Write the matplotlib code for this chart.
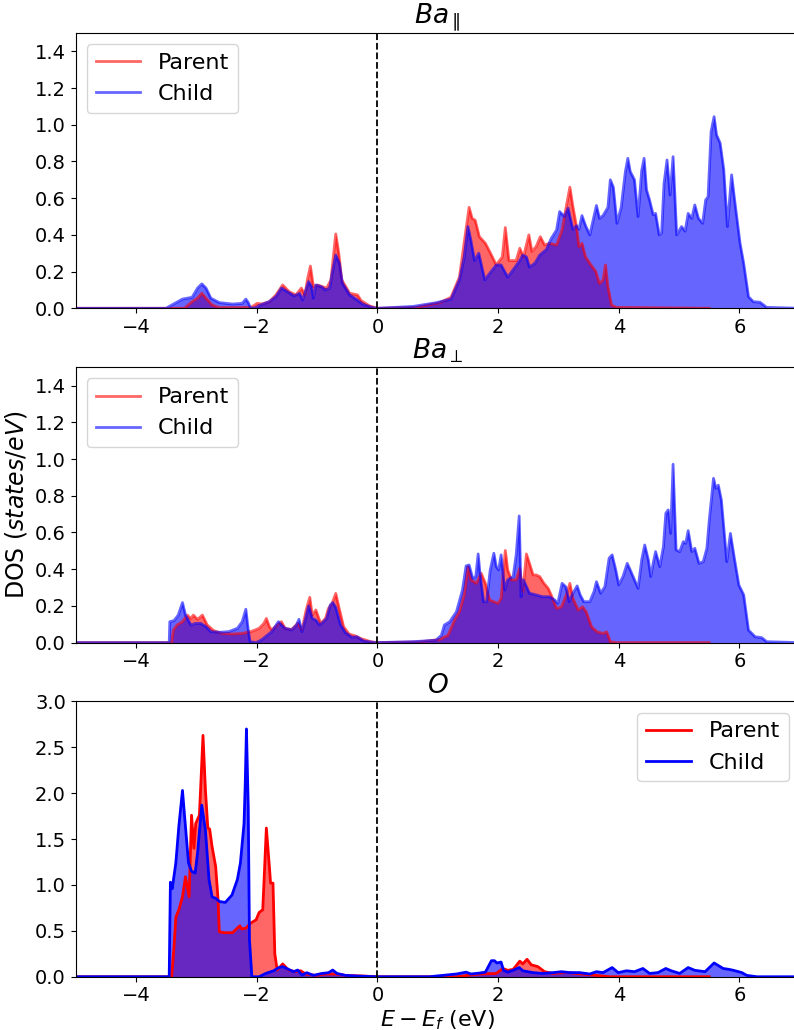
import matplotlib
matplotlib.use('Agg')
import matplotlib.pyplot as plt
import numpy as np

# projected DOS, columns: energy E - E_f (eV), DOS (states/eV)
ba_par_parent = np.array([
    (-5.0, 0), (-3.2, 0), (-3.07, 0.036), (-2.98, 0.055), (-2.91, 0.082), (-2.84, 0.055),
    (-2.74, 0.018), (-2.62, 0.004), (-2.10, 0.004), (-1.99, 0.027), (-1.92, 0.023),
    (-1.79, 0.036), (-1.68, 0.073), (-1.57, 0.127), (-1.46, 0.09), (-1.35, 0.073),
    (-1.26, 0.11), (-1.20, 0.073), (-1.16, 0.155), (-1.11, 0.23), (-1.06, 0.118),
    (-0.99, 0.127), (-0.91, 0.118), (-0.84, 0.11), (-0.77, 0.155), (-0.73, 0.28),
    (-0.69, 0.405), (-0.64, 0.30), (-0.59, 0.155), (-0.46, 0.082), (-0.33, 0.073),
    (-0.27, 0.042), (-0.13, 0.013), (0.0, 0), (0.64, 0.005), (1.03, 0.03), (1.22, 0.06),
    (1.36, 0.17), (1.46, 0.41), (1.52, 0.55), (1.57, 0.49), (1.62, 0.48), (1.69, 0.39),
    (1.79, 0.354), (1.89, 0.29), (1.97, 0.236), (2.07, 0.28), (2.12, 0.44), (2.18, 0.26),
    (2.30, 0.26), (2.36, 0.327), (2.42, 0.28), (2.51, 0.40), (2.56, 0.31), (2.63, 0.336),
    (2.70, 0.39), (2.77, 0.345), (2.85, 0.354), (2.97, 0.345), (3.06, 0.427), (3.13, 0.554),
    (3.19, 0.66), (3.24, 0.554), (3.30, 0.445), (3.34, 0.336), (3.39, 0.354), (3.45, 0.28),
    (3.52, 0.245), (3.62, 0.20), (3.68, 0.135), (3.74, 0.155), (3.78, 0.236), (3.82, 0.118),
    (3.88, 0.017), (3.96, 0.005), (5.5, 0),
])
ba_par_child = np.array([
    (-5.0, 0), (-3.5, 0), (-3.45, 0.01), (-3.23, 0.05), (-3.07, 0.06), (-2.98, 0.11),
    (-2.91, 0.133), (-2.84, 0.11), (-2.76, 0.055), (-2.62, 0.031), (-2.40, 0.023),
    (-2.24, 0.027), (-2.18, 0.05), (-2.14, 0.031), (-2.10, 0), (-2.01, 0.004),
    (-1.94, 0.018), (-1.79, 0.036), (-1.68, 0.064), (-1.59, 0.11), (-1.49, 0.09),
    (-1.38, 0.067), (-1.29, 0.081), (-1.24, 0.045), (-1.14, 0.145), (-1.09, 0.118),
    (-1.06, 0.055), (-1.02, 0.127), (-0.93, 0.118), (-0.86, 0.10), (-0.79, 0.11),
    (-0.75, 0.19), (-0.69, 0.29), (-0.63, 0.245), (-0.58, 0.136), (-0.46, 0.073),
    (-0.35, 0.049), (-0.24, 0.022), (-0.08, 0.004), (0.0, 0), (0.59, 0.01), (0.97, 0.03),
    (1.22, 0.05), (1.36, 0.155), (1.44, 0.28), (1.50, 0.445), (1.55, 0.37), (1.61, 0.26),
    (1.68, 0.30), (1.78, 0.155), (1.86, 0.19), (1.97, 0.236), (2.05, 0.236), (2.11, 0.20),
    (2.16, 0.17), (2.25, 0.21), (2.36, 0.26), (2.41, 0.29), (2.47, 0.28), (2.52, 0.225),
    (2.61, 0.245), (2.69, 0.29), (2.80, 0.32), (2.88, 0.38), (2.97, 0.427), (3.02, 0.527),
    (3.10, 0.50), (3.16, 0.545), (3.24, 0.43), (3.30, 0.45), (3.34, 0.43), (3.39, 0.505),
    (3.45, 0.45), (3.52, 0.40), (3.63, 0.56), (3.68, 0.49), (3.74, 0.505), (3.82, 0.55),
    (3.86, 0.70), (3.91, 0.66), (3.97, 0.463), (4.04, 0.55), (4.11, 0.745), (4.15, 0.817),
    (4.19, 0.745), (4.26, 0.70), (4.32, 0.50), (4.38, 0.75), (4.42, 0.817), (4.46, 0.645),
    (4.51, 0.59), (4.57, 0.51), (4.61, 0.517), (4.67, 0.40), (4.71, 0.41), (4.75, 0.68),
    (4.80, 0.808), (4.85, 0.617), (4.90, 0.826), (4.96, 0.40), (5.04, 0.445), (5.10, 0.42),
    (5.15, 0.517), (5.21, 0.49), (5.26, 0.563), (5.32, 0.49), (5.39, 0.463), (5.44, 0.59),
    (5.48, 0.608), (5.53, 0.963), (5.58, 1.044), (5.62, 0.945), (5.68, 0.90), (5.74, 0.755),
    (5.80, 0.445), (5.87, 0.727), (5.92, 0.59), (6.01, 0.354), (6.07, 0.245), (6.15, 0.063),
    (6.23, 0.036), (6.34, 0.033), (6.45, 0.005), (7.0, 0),
])

ba_perp_parent = np.array([
    (-5.0, 0), (-3.41, 0), (-3.38, 0.069), (-3.32, 0.096), (-3.23, 0.114), (-3.15, 0.15),
    (-3.09, 0.132), (-3.05, 0.15), (-2.98, 0.127), (-2.90, 0.15), (-2.82, 0.096),
    (-2.71, 0.065), (-2.57, 0.05), (-2.40, 0.047), (-2.24, 0.05), (-2.07, 0.063),
    (-1.96, 0.078), (-1.88, 0.105), (-1.84, 0.132), (-1.79, 0.087), (-1.75, 0.069),
    (-1.66, 0.096), (-1.59, 0.114), (-1.53, 0.078), (-1.42, 0.072), (-1.32, 0.105),
    (-1.25, 0.069), (-1.18, 0.178), (-1.12, 0.247), (-1.08, 0.15), (-1.02, 0.178),
    (-0.94, 0.105), (-0.86, 0.132), (-0.81, 0.187), (-0.75, 0.214), (-0.69, 0.268),
    (-0.64, 0.196), (-0.56, 0.087), (-0.47, 0.047), (-0.36, 0.036), (-0.28, 0.023),
    (-0.11, 0.005), (0.0, 0), (0.70, 0.004), (1.03, 0.017), (1.17, 0.04), (1.28, 0.123),
    (1.36, 0.168), (1.44, 0.26), (1.50, 0.414), (1.55, 0.342), (1.64, 0.323), (1.72, 0.378),
    (1.79, 0.323), (1.86, 0.232), (2.00, 0.214), (2.05, 0.241), (2.09, 0.396), (2.12, 0.502),
    (2.16, 0.396), (2.22, 0.342), (2.30, 0.342), (2.36, 0.405), (2.41, 0.278), (2.47, 0.483),
    (2.52, 0.432), (2.58, 0.369), (2.63, 0.369), (2.69, 0.36), (2.76, 0.323), (2.83, 0.296),
    (2.88, 0.26), (2.97, 0.186), (3.05, 0.195), (3.13, 0.26), (3.19, 0.323), (3.24, 0.241),
    (3.33, 0.177), (3.40, 0.195), (3.46, 0.168), (3.55, 0.086), (3.64, 0.059), (3.74, 0.05),
    (3.80, 0.059), (3.86, 0.005), (3.96, 0), (5.5, 0),
])
ba_perp_child = np.array([
    (-5.0, 0), (-3.45, 0), (-3.44, 0.114), (-3.37, 0.12), (-3.30, 0.15), (-3.23, 0.218),
    (-3.18, 0.15), (-3.09, 0.096), (-3.01, 0.105), (-2.93, 0.105), (-2.84, 0.087),
    (-2.76, 0.06), (-2.62, 0.056), (-2.46, 0.06), (-2.32, 0.078), (-2.24, 0.114),
    (-2.18, 0.182), (-2.14, 0.069), (-2.11, 0.005), (-2.01, 0), (-1.92, 0.015),
    (-1.75, 0.06), (-1.64, 0.114), (-1.59, 0.096), (-1.53, 0.078), (-1.42, 0.069),
    (-1.34, 0.096), (-1.30, 0.127), (-1.25, 0.06), (-1.19, 0.132), (-1.14, 0.2),
    (-1.08, 0.132), (-1.02, 0.123), (-0.96, 0.096), (-0.89, 0.114), (-0.84, 0.132),
    (-0.78, 0.205), (-0.74, 0.218), (-0.69, 0.192), (-0.61, 0.096), (-0.53, 0.054),
    (-0.42, 0.029), (-0.34, 0.032), (-0.23, 0.009), (-0.03, 0), (0.59, 0.005),
    (0.97, 0.013), (1.06, 0.04), (1.11, 0.096), (1.20, 0.114), (1.31, 0.168), (1.41, 0.287),
    (1.47, 0.418), (1.52, 0.423), (1.58, 0.35), (1.63, 0.36), (1.67, 0.483), (1.70, 0.378),
    (1.76, 0.223), (1.81, 0.223), (1.87, 0.396), (1.93, 0.487), (1.97, 0.414), (2.01, 0.396),
    (2.05, 0.478), (2.11, 0.287), (2.16, 0.342), (2.25, 0.36), (2.30, 0.478), (2.35, 0.69),
    (2.37, 0.414), (2.38, 0.25), (2.42, 0.342), (2.52, 0.269), (2.63, 0.26), (2.74, 0.25),
    (2.85, 0.25), (2.94, 0.232), (2.99, 0.214), (3.06, 0.323), (3.12, 0.305), (3.18, 0.223),
    (3.24, 0.269), (3.31, 0.309), (3.36, 0.26), (3.42, 0.223), (3.52, 0.223), (3.59, 0.278),
    (3.63, 0.332), (3.70, 0.269), (3.77, 0.305), (3.84, 0.46), (3.89, 0.478), (3.95, 0.396),
    (4.00, 0.314), (4.07, 0.36), (4.14, 0.432), (4.19, 0.396), (4.26, 0.342), (4.32, 0.296),
    (4.38, 0.451), (4.43, 0.532), (4.49, 0.451), (4.53, 0.36), (4.57, 0.432), (4.61, 0.496),
    (4.68, 0.414), (4.74, 0.523), (4.78, 0.705), (4.82, 0.723), (4.86, 0.595), (4.90, 0.972),
    (4.95, 0.505), (5.01, 0.496), (5.07, 0.55), (5.11, 0.541), (5.15, 0.61), (5.21, 0.496),
    (5.26, 0.514), (5.33, 0.432), (5.40, 0.441), (5.46, 0.514), (5.50, 0.668), (5.57, 0.895),
    (5.61, 0.84), (5.65, 0.858), (5.70, 0.777), (5.79, 0.441), (5.85, 0.595), (5.92, 0.451),
    (5.99, 0.314), (6.07, 0.26), (6.15, 0.068), (6.26, 0.032), (6.37, 0.027), (6.45, 0.005),
    (7.0, 0),
])

o_parent = np.array([
    (-5.0, 0), (-3.41, 0), (-3.37, 0.33), (-3.34, 0.65), (-3.29, 0.73), (-3.23, 0.87),
    (-3.18, 1.09), (-3.12, 0.87), (-3.08, 1.76), (-3.04, 1.40), (-3.01, 1.67), (-2.95, 1.76),
    (-2.93, 2.04), (-2.89, 2.63), (-2.85, 2.04), (-2.81, 1.62), (-2.78, 1.61), (-2.74, 1.42),
    (-2.68, 1.20), (-2.64, 0.84), (-2.62, 0.49), (-2.54, 0.48), (-2.40, 0.48), (-2.32, 0.53),
    (-2.28, 0.555), (-2.25, 0.52), (-2.18, 0.53), (-2.10, 0.585), (-2.01, 0.62),
    (-1.96, 0.70), (-1.90, 0.73), (-1.88, 1.02), (-1.84, 1.62), (-1.79, 1.20), (-1.77, 1.02),
    (-1.73, 1.02), (-1.70, 0.25), (-1.66, 0.073), (-1.57, 0.14), (-1.47, 0.073),
    (-1.36, 0.055), (-1.27, 0.065), (-1.19, 0.03), (-1.02, 0.015), (-0.86, 0.03),
    (-0.69, 0.03), (-0.53, 0.015), (-0.20, 0.007), (0.0, 0), (1.31, 0), (1.69, 0.03),
    (1.97, 0.036), (2.08, 0.09), (2.16, 0.07), (2.25, 0.08), (2.36, 0.17), (2.41, 0.14),
    (2.48, 0.19), (2.55, 0.13), (2.66, 0.11), (2.77, 0.055), (2.91, 0.036), (3.13, 0.047),
    (3.30, 0.036), (3.57, 0.018), (3.85, 0), (5.5, 0),
])
o_child = np.array([
    (-5.0, 0), (-3.45, 0), (-3.43, 1.03), (-3.40, 0.96), (-3.34, 1.24), (-3.29, 1.64),
    (-3.23, 2.03), (-3.19, 1.71), (-3.13, 1.24), (-3.08, 1.15), (-3.02, 1.13), (-2.98, 1.35),
    (-2.91, 1.87), (-2.85, 1.60), (-2.79, 1.06), (-2.74, 0.87), (-2.68, 0.855),
    (-2.62, 0.82), (-2.52, 0.81), (-2.41, 0.89), (-2.32, 1.06), (-2.27, 1.24), (-2.21, 1.67),
    (-2.19, 2.10), (-2.17, 2.70), (-2.14, 1.85), (-2.12, 0.40), (-2.08, 0), (-1.96, 0),
    (-1.85, 0.036), (-1.72, 0.065), (-1.64, 0.098), (-1.57, 0.11), (-1.47, 0.08),
    (-1.39, 0.055), (-1.32, 0.073), (-1.25, 0.018), (-1.17, 0.044), (-1.06, 0.015),
    (-0.92, 0.036), (-0.81, 0.044), (-0.74, 0.073), (-0.67, 0.036), (-0.53, 0.015),
    (-0.31, 0.007), (0.0, 0), (0.86, 0), (1.31, 0.03), (1.47, 0.05), (1.55, 0.03),
    (1.69, 0.04), (1.79, 0.05), (1.89, 0.175), (1.94, 0.175), (1.98, 0.15), (2.05, 0.16),
    (2.09, 0.07), (2.16, 0.05), (2.25, 0.07), (2.35, 0.10), (2.41, 0.065), (2.58, 0.045),
    (2.74, 0.036), (2.91, 0.045), (3.05, 0.055), (3.19, 0.045), (3.35, 0.045), (3.52, 0.03),
    (3.63, 0.055), (3.74, 0.045), (3.89, 0.10), (3.99, 0.045), (4.13, 0.065), (4.26, 0.055),
    (4.40, 0.09), (4.51, 0.036), (4.65, 0.045), (4.78, 0.09), (4.87, 0.065), (5.01, 0.036),
    (5.15, 0.10), (5.26, 0.07), (5.43, 0.055), (5.58, 0.15), (5.73, 0.09), (5.83, 0.08),
    (5.90, 0.07), (6.04, 0.045), (6.12, 0.015), (6.29, 0), (7.0, 0),
])

titles = [r'$Ba_{\parallel}$', r'$Ba_{\perp}$', r'$O$']
ylims = [1.5, 1.5, 3.0]
yticks = [
    [0.0, 0.2, 0.4, 0.6, 0.8, 1.0, 1.2, 1.4],
    [0.0, 0.2, 0.4, 0.6, 0.8, 1.0, 1.2, 1.4],
    [0.0, 0.5, 1.0, 1.5, 2.0, 2.5, 3.0],
]
legend_locs = ['upper left', 'upper left', 'upper right']
line_alphas = [0.6, 0.6, 1.0]
panels = [(ba_par_parent, ba_par_child), (ba_perp_parent, ba_perp_child), (o_parent, o_child)]

fig = plt.figure(figsize=(7.94, 10.30), dpi=100)
bottoms = [0.7007, 0.3761, 0.0517]

for i, (parent, child) in enumerate(panels):
    ax = fig.add_axes([0.0953, bottoms[i], 0.912, 0.2673])
    ax.fill_between(parent[:, 0], parent[:, 1], 0, color='red', alpha=0.6, lw=0)
    ax.fill_between(child[:, 0], child[:, 1], 0, color='blue', alpha=0.6, lw=0)
    ax.plot(parent[:, 0], parent[:, 1], color='red', lw=2, alpha=line_alphas[i], label='Parent')
    ax.plot(child[:, 0], child[:, 1], color='blue', lw=2, alpha=line_alphas[i], label='Child')
    ax.axvline(0, color='k', ls='--', lw=1.3)
    ax.set_xlim(-5, 7)
    ax.set_ylim(0, ylims[i])
    ax.set_xticks([-4, -2, 0, 2, 4, 6])
    ax.set_yticks(yticks[i])
    ax.yaxis.set_major_formatter(plt.FormatStrFormatter('%.1f'))
    ax.tick_params(labelsize=14)
    ax.set_title(titles[i], fontsize=19)
    ax.legend(loc=legend_locs[i], fontsize=16)
    if i == 1:
        ax.set_ylabel(r'DOS ($states/eV$)', fontsize=17)
    if i == 2:
        ax.set_xlabel(r'$E-E_f$ (eV)', fontsize=16, labelpad=2)

fig.savefig('out.png', dpi=100)
